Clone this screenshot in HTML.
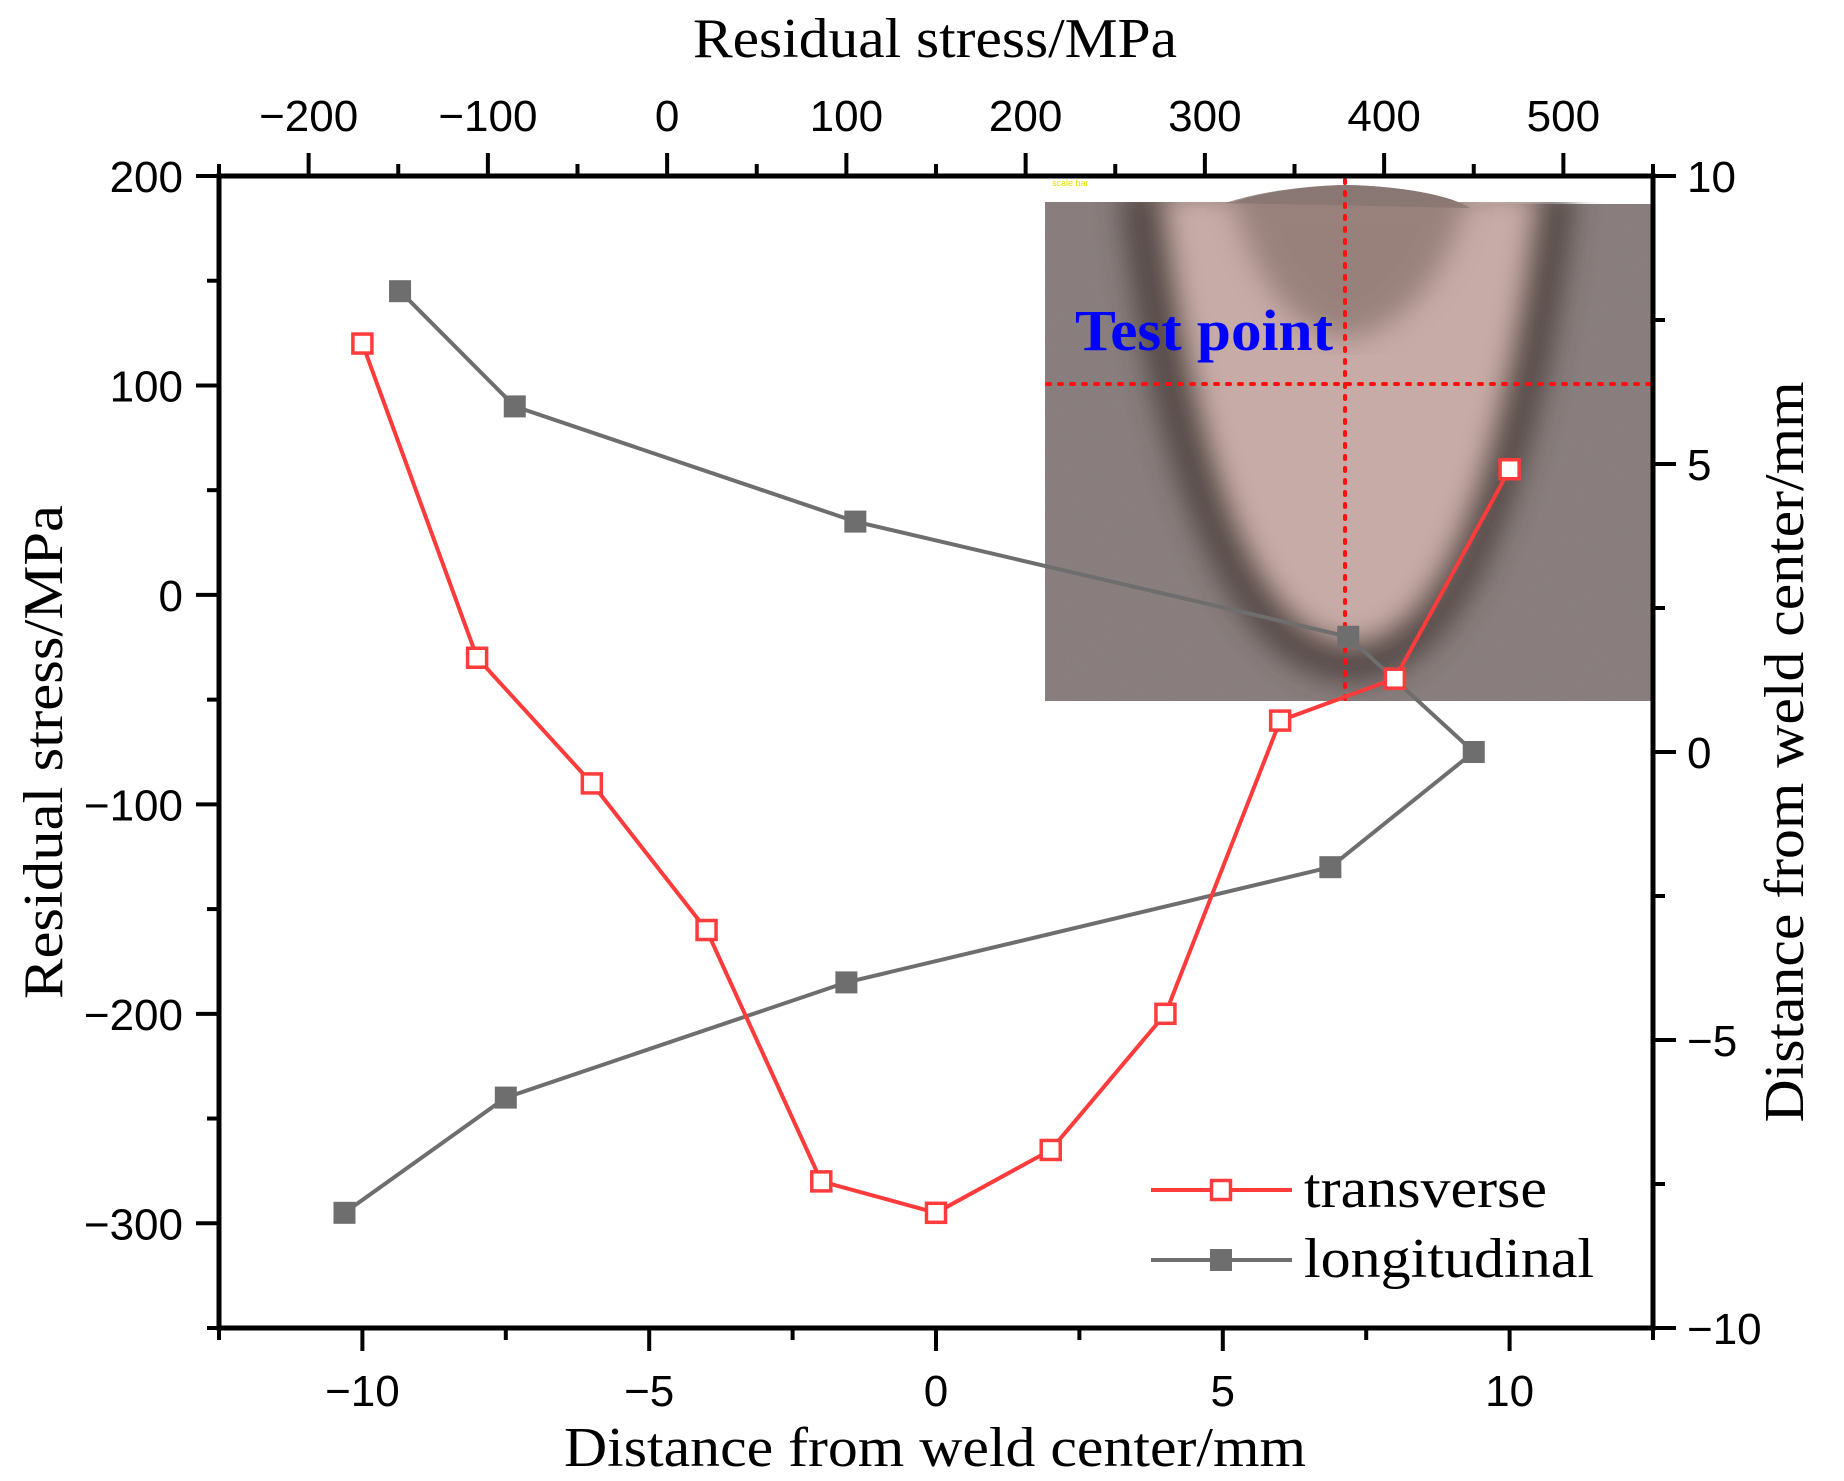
<!DOCTYPE html>
<html><head><meta charset="utf-8"><style>
html,body{margin:0;padding:0;background:#fff}
svg{display:block}
.tk{font-family:"Liberation Sans",sans-serif;font-size:44px;fill:#000}
.tt{font-family:"Liberation Serif",serif;font-size:56px;fill:#000}
</style></head><body>
<svg id="chart" width="1844" height="1481" viewBox="0 0 1844 1481" xmlns="http://www.w3.org/2000/svg">
<defs>
<filter id="noise" x="0" y="0" width="100%" height="100%">
<feTurbulence type="fractalNoise" baseFrequency="0.9" numOctaves="2" seed="3" result="n"/>
<feColorMatrix in="n" type="matrix" values="0 0 0 0 0.5  0 0 0 0 0.45  0 0 0 0 0.45  0 0 0 0.35 0" result="c"/>
<feComposite in="c" in2="SourceGraphic" operator="in" result="m"/>
<feBlend in="SourceGraphic" in2="m" mode="multiply"/>
</filter>
<filter id="blur"><feGaussianBlur stdDeviation="14"/></filter>
<clipPath id="imgclip"><rect x="1045" y="202" width="608" height="499"/></clipPath>
</defs>
<g id="inset">
  <text x="1052" y="186" font-family="Liberation Sans,sans-serif" font-size="9" fill="#e8e000">scale bar</text>
  <path d="M1045,202 L1235,202 C1250,195 1300,186 1345,185 C1400,186 1450,195 1470,208 L1485,204 L1653,204 L1653,701 L1045,701 Z" fill="#8f8483" filter="url(#noise)"/>
  <g clip-path="url(#imgclip)">
    <path d="M1120,190 C1150,470 1230,680 1352,682 C1470,680 1545,470 1575,190 Z" fill="#3f3432" opacity="0.75" filter="url(#blur)"/>
    <path d="M1160,190 C1190,440 1250,640 1352,645 C1450,640 1510,440 1540,190 Z" fill="#c7aba6" filter="url(#blur)"/>
    <path d="M1230,190 C1260,300 1300,330 1345,340 C1390,330 1440,300 1470,190 Z" fill="#7a6660" opacity="0.6" filter="url(#blur)"/>
  </g>
  <path d="M1225,203 C1260,192 1300,186 1345,185 C1400,186 1450,195 1470,208 Z" fill="#8a7670" opacity="0.8"/>
  <line x1="1345" y1="180" x2="1345" y2="700" stroke="#ff1010" stroke-width="4" stroke-dasharray="3,9" stroke-linecap="round"/>
  <line x1="1047" y1="384" x2="1650" y2="384" stroke="#ff1010" stroke-width="4" stroke-dasharray="3,9" stroke-linecap="round"/>
  <text x="1075" y="350" font-family="Liberation Serif,serif" font-weight="bold" font-size="58" fill="#0000ff" textLength="258" lengthAdjust="spacingAndGlyphs">Test point</text>
</g>
<g id="axes"></g>
<g id="series"></g>
<text class="tt" x="935" y="57" text-anchor="middle" textLength="484" lengthAdjust="spacingAndGlyphs">Residual stress/MPa</text>
<text class="tt" x="935" y="1466" text-anchor="middle" textLength="742" lengthAdjust="spacingAndGlyphs">Distance from weld center/mm</text>
<text class="tt" transform="translate(62,752) rotate(-90)" text-anchor="middle" textLength="494" lengthAdjust="spacingAndGlyphs">Residual stress/MPa</text>
<text class="tt" transform="translate(1803,752) rotate(-90)" text-anchor="middle" textLength="741" lengthAdjust="spacingAndGlyphs">Distance from weld center/mm</text>
<g id="legend">
  <g>
    <line x1="1151" y1="1190" x2="1292" y2="1190" stroke="#ff3b3b" stroke-width="4"/>
    <rect x="1211.5" y="1180.5" width="19" height="19" fill="#fff" stroke="#ff3b3b" stroke-width="3.5"/>
    <text class="tt" x="1304" y="1207" textLength="243" lengthAdjust="spacingAndGlyphs">transverse</text>
  </g>
  <g>
    <line x1="1151" y1="1260" x2="1292" y2="1260" stroke="#6e6e6e" stroke-width="4"/>
    <rect x="1210" y="1249" width="22" height="22" fill="#6e6e6e"/>
    <text class="tt" x="1304" y="1277" textLength="290" lengthAdjust="spacingAndGlyphs">longitudinal</text>
  </g>
</g>
</svg>
<script>
const transverseX = [-10,-8,-6,-4,-2,0,2,4,6,8,10];
const transverseStress = [120,-30,-90,-160,-280,-295,-265,-200,-60,-40,60];
const longitudinalStress = [-149,-85,105,380,450,370,100,-90,-180];
const longitudinalDist = [8,6,4,2,0,-2,-4,-6,-8];
const leftTicks = [200,100,0,-100,-200,-300];
const leftTickLabels = ["200","100","0","\u2212100","\u2212200","\u2212300"];
const bottomTicks = [-10,-5,0,5,10];
const bottomTickLabels = ["\u221210","\u22125","0","5","10"];
const topTicks = [-200,-100,0,100,200,300,400,500];
const topTickLabels = ["\u2212200","\u2212100","0","100","200","300","400","500"];
const rightTicks = [10,5,0,-5,-10];
const rightTickLabels = ["10","5","0","\u22125","\u221210"];

const L=219,R=1653,T=176,B=1328;
const xB=v=>L+(v+12.5)/25*(R-L);
const yL=v=>T+(200-v)/550*(B-T);
const xT=v=>L+(v+250)/800*(R-L);
const yR=v=>T+(10-v)/20*(B-T);
const NS="http://www.w3.org/2000/svg";
function mk(tag,attrs,parent){const e=document.createElementNS(NS,tag);for(const k in attrs)e.setAttribute(k,attrs[k]);parent.appendChild(e);return e;}
const ax=document.getElementById('axes');
const frame=mk('rect',{x:L,y:T,width:R-L,height:B-T,fill:'none',stroke:'#000','stroke-width':5},ax);


const tl=(x1,y1,x2,y2)=>mk('line',{x1,y1,x2,y2,stroke:'#000','stroke-width':4},ax);
const MJ=23,MN=12;
for(let v=-350;v<=200;v+=50){const y=yL(v);tl(L,y,L-(v%100===0?MJ:MN),y);}
leftTicks.forEach((v,i)=>{const t=mk('text',{x:L-36,y:yL(v)+16,'text-anchor':'end',class:'tk'},ax);t.textContent=leftTickLabels[i];

});
for(let v=-12.5;v<=12.5;v+=2.5){const x=xB(v);tl(x,B,x,B+(v%5===0?MJ:MN));}
bottomTicks.forEach((v,i)=>{const t=mk('text',{x:xB(v),y:1406,'text-anchor':'middle',class:'tk'},ax);t.textContent=bottomTickLabels[i];

});
for(let v=-250;v<=550;v+=50){const x=xT(v);tl(x,T,x,T-(v%100===0?MJ:MN));}
topTicks.forEach((v,i)=>{const t=mk('text',{x:xT(v),y:131,'text-anchor':'middle',class:'tk'},ax);t.textContent=topTickLabels[i];

});
for(let v=-10;v<=10;v+=2.5){const y=yR(v);tl(R,y,R+(v%5===0?MJ:MN),y);}
rightTicks.forEach((v,i)=>{const t=mk('text',{x:R+34,y:yR(v)+16,'text-anchor':'start',class:'tk'},ax);t.textContent=rightTickLabels[i];

});

const sg=document.getElementById('series');
const lp=longitudinalStress.map((v,i)=>xT(v)+','+yR(longitudinalDist[i])).join(' ');
const ll=mk('polyline',{points:lp,fill:'none',stroke:'#6e6e6e','stroke-width':4},sg);


const tp=transverseX.map((v,i)=>xB(v)+','+yL(transverseStress[i])).join(' ');
const tline=mk('polyline',{points:tp,fill:'none',stroke:'#ff3b3b','stroke-width':4},sg);


longitudinalStress.forEach((v,i)=>{const m=mk('rect',{x:xT(v)-11,y:yR(longitudinalDist[i])-11,width:22,height:22,fill:'#6e6e6e'},sg);

});
transverseX.forEach((v,i)=>{const m=mk('rect',{x:xB(v)-9.5,y:yL(transverseStress[i])-9.5,width:19,height:19,fill:'#fff',stroke:'#ff3b3b','stroke-width':3.5},sg);

});
</script>
</body></html>
